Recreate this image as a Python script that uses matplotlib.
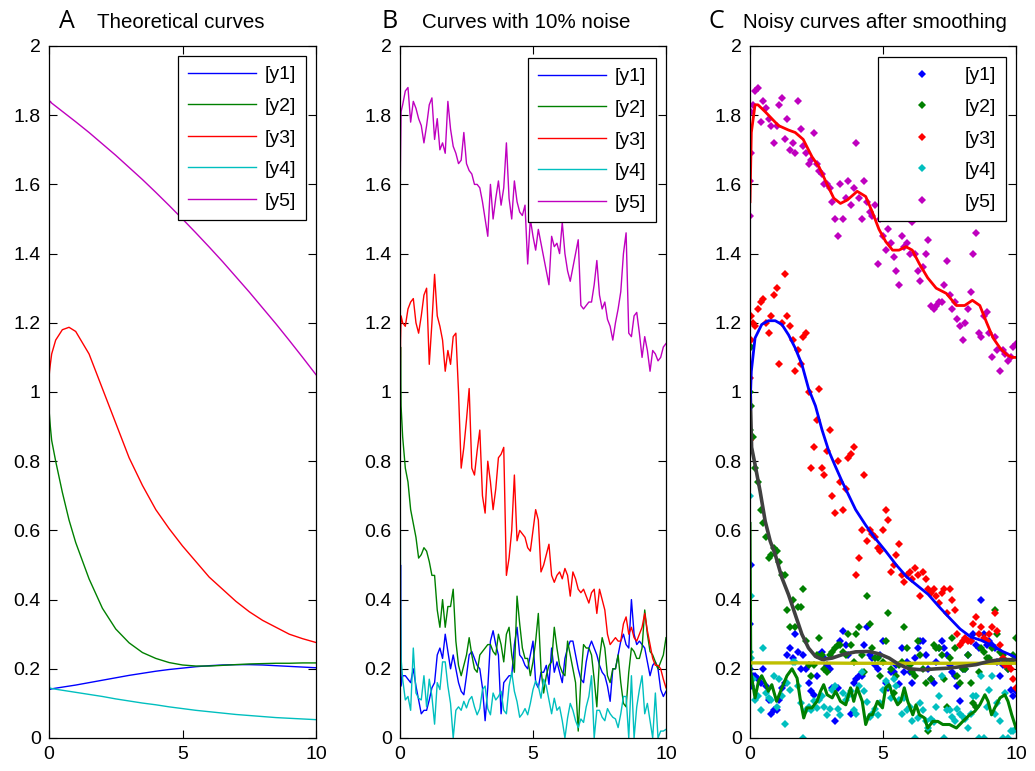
import numpy as np
import matplotlib
matplotlib.use("Agg")
import matplotlib.pyplot as plt

plt.rcParams['font.family'] = ['Liberation Sans', 'DejaVu Sans']

# ---------------- data ----------------
labels = ['[y1]', '[y2]', '[y3]', '[y4]', '[y5]']
colors = ['#0000ff', '#008000', '#ff0000', '#00bfbf', '#bf00bf']
xticks = [0, 5, 10]
xticklabels = ['0', '5', '10']
yticks = [0, 0.2, 0.4, 0.6, 0.8, 1.0, 1.2, 1.4, 1.6, 1.8, 2.0]
yticklabels = ['0', '0.2', '0.4', '0.6', '0.8', '1', '1.2', '1.4', '1.6', '1.8', '2']

# Panel A: theoretical curves
x_theory = [0, 0.02, 0.05, 0.1, 0.25, 0.5, 0.75, 1, 1.5, 2, 2.5, 3, 3.5, 4, 4.5,
            5, 5.5, 6, 6.5, 7, 7.5, 8, 8.5, 9, 9.5, 10]
y1_theory = [0.14, 0.14, 0.141, 0.142, 0.144, 0.147, 0.150, 0.153, 0.160, 0.167, 0.174,
             0.181, 0.187, 0.193, 0.198, 0.202, 0.206, 0.209, 0.211, 0.212, 0.212,
             0.211, 0.209, 0.207, 0.205, 0.203]
y2_theory = [0.95, 0.93, 0.90, 0.86, 0.80, 0.71, 0.63, 0.565, 0.46, 0.375, 0.315,
             0.275, 0.247, 0.23, 0.218, 0.211, 0.208, 0.208, 0.21, 0.212, 0.214,
             0.215, 0.216, 0.216, 0.217, 0.217]
y3_theory = [1.04, 1.06, 1.08, 1.11, 1.15, 1.18, 1.187, 1.175, 1.11, 1.01, 0.91,
             0.81, 0.73, 0.66, 0.605, 0.555, 0.51, 0.465, 0.43, 0.395, 0.365,
             0.34, 0.32, 0.30, 0.287, 0.276]
y4_theory = [0.185, 0.145, 0.144, 0.143, 0.141, 0.138, 0.135, 0.132, 0.126, 0.12,
             0.113, 0.107, 0.101, 0.096, 0.09, 0.085, 0.08, 0.076, 0.072, 0.068,
             0.065, 0.062, 0.059, 0.057, 0.055, 0.053]
y5_theory = [1.81, 1.84, 1.84, 1.835, 1.826, 1.811, 1.796, 1.781, 1.75, 1.717, 1.684,
             1.649, 1.614, 1.577, 1.539, 1.50, 1.46, 1.419, 1.377, 1.333, 1.289,
             1.243, 1.197, 1.149, 1.10, 1.05]

# Panels B and C: noisy data
x_noisy = np.concatenate([[0.0, 0.01, 0.02, 0.04], np.linspace(0.1, 10, 100)])
y1_noisy = [0.20, 0.33, 0.50, 0.15,
            0.18, 0.18, 0.17, 0.16, 0.20, 0.15, 0.11, 0.07, 0.08,
            0.08, 0.11, 0.145, 0.16, 0.24, 0.26, 0.23, 0.30, 0.25, 0.20,
            0.24, 0.20, 0.16, 0.135, 0.125, 0.18, 0.24, 0.25, 0.23, 0.21,
            0.20, 0.145, 0.05, 0.145, 0.28, 0.31, 0.27, 0.24, 0.07, 0.16,
            0.17, 0.18, 0.18, 0.27, 0.32, 0.24, 0.23, 0.21, 0.20, 0.24,
            0.28, 0.16, 0.145, 0.19, 0.19, 0.21, 0.155, 0.26, 0.19, 0.22,
            0.19, 0.16, 0.23, 0.26, 0.28, 0.28, 0.24, 0.20, 0.17, 0.16,
            0.22, 0.26, 0.28, 0.26, 0.24, 0.21, 0.19, 0.18, 0.15, 0.106,
            0.20, 0.20, 0.24, 0.28, 0.30, 0.27, 0.26, 0.40, 0.30, 0.27,
            0.28, 0.27, 0.26, 0.22, 0.18, 0.21, 0.22, 0.20, 0.14, 0.12,
            0.135]
y2_noisy = [0.89, 1.00, 1.13, 0.96,
            0.87, 0.78, 0.74, 0.66, 0.62, 0.58, 0.52, 0.53, 0.55,
            0.54, 0.51, 0.47, 0.47, 0.37, 0.32, 0.40, 0.32, 0.38, 0.38,
            0.43, 0.28, 0.21, 0.18, 0.21, 0.24, 0.29, 0.24, 0.20, 0.19,
            0.24, 0.25, 0.26, 0.27, 0.27, 0.25, 0.24, 0.30, 0.27, 0.22,
            0.30, 0.32, 0.24, 0.19, 0.41, 0.33, 0.26, 0.23, 0.23, 0.18,
            0.22, 0.28, 0.36, 0.20, 0.13, 0.18, 0.21, 0.22, 0.32, 0.26,
            0.21, 0.19, 0.18, 0.28, 0.24, 0.20, 0.16, 0.02, 0.17, 0.27,
            0.26, 0.26, 0.24, 0.17, 0.09, 0.23, 0.29, 0.26, 0.18, 0.16,
            0.20, 0.20, 0.24, 0.16, 0.10, 0.09, 0.19, 0.26, 0.25, 0.23,
            0.23, 0.26, 0.37, 0.30, 0.25, 0.24, 0.22, 0.20, 0.22, 0.24,
            0.29]
y3_noisy = [0.86, 1.04, 1.15, 1.22,
            1.20, 1.19, 1.24, 1.26, 1.27, 1.20, 1.17, 1.22, 1.28,
            1.30, 1.08, 1.20, 1.34, 1.22, 1.19, 1.15, 1.06, 1.12, 1.08,
            1.16, 1.17, 1.00, 0.78, 0.84, 0.92, 1.01, 0.78, 0.76, 0.83,
            0.89, 0.70, 0.65, 0.80, 0.74, 0.66, 0.72, 0.81, 0.82, 0.84,
            0.47, 0.52, 0.60, 0.76, 0.57, 0.60, 0.59, 0.58, 0.55, 0.54,
            0.60, 0.66, 0.63, 0.48, 0.50, 0.53, 0.56, 0.47, 0.45, 0.47,
            0.48, 0.46, 0.49, 0.47, 0.41, 0.48, 0.46, 0.43, 0.42, 0.43,
            0.41, 0.39, 0.42, 0.43, 0.36, 0.43, 0.40, 0.37, 0.30, 0.27,
            0.28, 0.29, 0.28, 0.28, 0.33, 0.35, 0.30, 0.32, 0.29, 0.28,
            0.30, 0.32, 0.36, 0.31, 0.27, 0.23, 0.21, 0.21, 0.20, 0.17,
            0.145]
y4_noisy = [0.25, 0.70, 0.41, 0.23,
            0.17, 0.11, 0.12, 0.08, 0.26, 0.13, 0.115, 0.11, 0.18,
            0.09, 0.17, 0.12, 0.04, 0.16, 0.14, 0.22, 0.22, 0.15, 0.10,
            0.00, 0.08, 0.09, 0.08, 0.106, 0.087, 0.11, 0.12, 0.09, 0.067,
            0.085, 0.14, 0.15, 0.085, 0.067, 0.13, 0.11, 0.12, 0.135, 0.08,
            0.07, 0.15, 0.19, 0.135, 0.105, 0.06, 0.07, 0.085, 0.067, 0.10,
            0.14, 0.165, 0.15, 0.115, 0.17, 0.15, 0.11, 0.07, 0.115, 0.08,
            0.09, 0.05, 0.00, 0.058, 0.10, 0.08, 0.05, 0.03, 0.055, 0.045,
            0.09, 0.12, 0.18, 0.00, 0.08, 0.08, 0.06, 0.05, 0.085, 0.07,
            0.06, 0.055, 0.03, 0.07, 0.12, 0.12, 0.00, 0.18, 0.00, 0.09,
            0.14, 0.18, 0.07, 0.10, 0.05, 0.00, 0.13, 0.00, 0.02, 0.02,
            0.025]
y5_noisy = [1.51, 1.61, 1.69, 1.81,
            1.83, 1.87, 1.88, 1.78, 1.84, 1.82, 1.79, 1.77, 1.72,
            1.77, 1.83, 1.85, 1.73, 1.79, 1.70, 1.72, 1.69, 1.84, 1.76,
            1.71, 1.69, 1.66, 1.67, 1.75, 1.66, 1.64, 1.63, 1.60, 1.60,
            1.59, 1.55, 1.50, 1.45, 1.60, 1.50, 1.56, 1.61, 1.54, 1.59,
            1.72, 1.56, 1.50, 1.61, 1.55, 1.52, 1.51, 1.54, 1.37, 1.50,
            1.45, 1.41, 1.47, 1.43, 1.39, 1.35, 1.31, 1.45, 1.42, 1.43,
            1.40, 1.49, 1.40, 1.35, 1.32, 1.36, 1.40, 1.44, 1.25, 1.24,
            1.25, 1.26, 1.26, 1.31, 1.38, 1.28, 1.24, 1.26, 1.21, 1.19,
            1.15, 1.20, 1.24, 1.29, 1.40, 1.46, 1.17, 1.16, 1.22, 1.23,
            1.17, 1.10, 1.16, 1.12, 1.06, 1.12, 1.11, 1.09, 1.10, 1.13,
            1.14]

# Panel C: smoothed curves
x_s5 = [0, 0.05, 0.19, 0.3, 0.57, 0.82, 1.07, 1.45, 1.7, 2.0, 2.33, 2.6, 2.9, 3.15,
        3.4, 3.66, 4.03, 4.35, 4.6, 4.85, 5.1, 5.36, 5.6, 5.86, 6.1, 6.37, 6.68, 7.0,
        7.38, 7.76, 8.07, 8.36, 8.64, 8.9, 9.14, 9.4, 9.65, 9.84, 10]
y_s5 = [1.55, 1.75, 1.83, 1.83, 1.81, 1.79, 1.77, 1.757, 1.75, 1.73, 1.68, 1.65, 1.60,
        1.56, 1.545, 1.555, 1.58, 1.565, 1.52, 1.47, 1.435, 1.41, 1.41, 1.42, 1.41,
        1.37, 1.33, 1.30, 1.285, 1.25, 1.25, 1.265, 1.25, 1.20, 1.156, 1.127, 1.108,
        1.10, 1.10]
x_s3 = [0, 0.05, 0.19, 0.44, 0.69, 0.95, 1.2, 1.45, 1.7, 1.95, 2.2, 2.46, 2.71, 2.96,
        3.21, 3.47, 3.72, 3.97, 4.35, 4.73, 5.1, 5.5, 5.9, 6.3, 6.7, 7.1, 7.5, 7.9,
        8.3, 8.7, 9.1, 9.5, 9.8, 10]
y_s3 = [0.95, 1.06, 1.156, 1.195, 1.206, 1.206, 1.195, 1.165, 1.127, 1.08, 1.01, 0.96,
        0.89, 0.83, 0.785, 0.74, 0.70, 0.66, 0.615, 0.575, 0.54, 0.50, 0.465, 0.44,
        0.415, 0.38, 0.347, 0.315, 0.292, 0.282, 0.267, 0.25, 0.24, 0.233]
x_s2 = [0, 0.06, 0.19, 0.38, 0.57, 0.76, 0.95, 1.2, 1.45, 1.7, 1.95, 2.2, 2.46, 2.71,
        3.09, 3.47, 3.97, 4.48, 4.86, 5.23, 5.61, 5.99, 6.5, 7.0, 7.5, 8.0, 8.5, 9.0,
        9.5, 10]
y_s2 = [1.02, 0.84, 0.79, 0.713, 0.627, 0.569, 0.53, 0.463, 0.414, 0.357, 0.30, 0.26,
        0.236, 0.227, 0.231, 0.241, 0.249, 0.25, 0.243, 0.231, 0.212, 0.20, 0.197,
        0.20, 0.202, 0.207, 0.212, 0.222, 0.227, 0.226]
x_s1 = [0, 2, 4, 6, 8, 10]
y_s1 = [0.217, 0.217, 0.216, 0.216, 0.216, 0.216]
x_s4 = [0, 0.03, 0.19, 0.32, 0.44, 0.57, 0.69, 0.82, 1.0, 1.2, 1.39, 1.58, 1.77, 1.9,
        2.02, 2.14, 2.33, 2.52, 2.65, 2.77, 2.9, 3.09, 3.22, 3.4, 3.6, 3.78, 3.9, 4.03,
        4.22, 4.35, 4.48, 4.6, 4.79, 4.98, 5.1, 5.23, 5.36, 5.55, 5.67, 5.8, 5.93, 6.12,
        6.24, 6.37, 6.56, 6.68, 6.87, 7.06, 7.25, 7.5, 7.76, 8.0, 8.26, 8.45, 8.64,
        8.83, 8.95, 9.08, 9.2, 9.4, 9.58, 9.7, 9.84, 10]
y_s4 = [0.62, 0.19, 0.116, 0.164, 0.18, 0.16, 0.135, 0.154, 0.106, 0.145, 0.18, 0.20,
        0.173, 0.106, 0.058, 0.087, 0.087, 0.106, 0.135, 0.154, 0.125, 0.116, 0.135,
        0.106, 0.096, 0.145, 0.106, 0.145, 0.106, 0.039, 0.067, 0.067, 0.106, 0.087,
        0.145, 0.154, 0.125, 0.096, 0.106, 0.145, 0.106, 0.067, 0.096, 0.067, 0.058,
        0.029, 0.048, 0.048, 0.039, 0.039, 0.029, 0.048, 0.067, 0.077, 0.096, 0.125,
        0.106, 0.067, 0.087, 0.116, 0.125, 0.106, 0.067, 0.029]
smooth_colors = {'s5': '#ff0000', 's3': '#0000ff', 's2': '#404040',
                 's1': '#bfbf00', 's4': '#008000'}

titles = [('A', 'Theoretical curves'), ('B', 'Curves with 10% noise'),
          ('C', 'Noisy curves after smoothing')]

# ---------------- figure ----------------
W, H = 1035, 771
fig = plt.figure(figsize=(W / 100, H / 100), dpi=100)

def px_axes(left, right, top=46, bottom=738):
    return fig.add_axes([left / W, 1 - bottom / H, (right - left) / W, (bottom - top) / H])

axA = px_axes(49, 316)
axB = px_axes(400, 666)
axC = px_axes(750, 1016)

FS = 14

def style(ax):
    ax.set_xlim(0, 10)
    ax.set_ylim(0, 2)
    ax.set_xticks(xticks)
    ax.set_xticklabels(xticklabels)
    ax.set_yticks(yticks)
    ax.set_yticklabels(yticklabels)
    ax.tick_params(direction='in', length=6, width=0.8, top=True, right=True,
                   labelsize=FS, pad=6, colors='black')
    for s in ax.spines.values():
        s.set_linewidth(0.9)
        s.set_color('black')
        s.set_zorder(5)

series_theory = [y1_theory, y2_theory, y3_theory, y4_theory, y5_theory]
series_noisy = [y1_noisy, y2_noisy, y3_noisy, y4_noisy, y5_noisy]

for ys, c, lab in zip(series_theory, colors, labels):
    axA.plot(x_theory, ys, color=c, lw=1.0, label=lab)
for ys, c, lab in zip(series_noisy, colors, labels):
    axB.plot(x_noisy, ys, color=c, lw=1.0, label=lab)
for ys, c, lab in zip(series_noisy, colors, labels):
    axC.plot(x_noisy, ys, linestyle='none', marker='D', ms=3.6, color=c,
             markeredgewidth=0, label=lab)

axC.plot(x_s4, y_s4, color=smooth_colors['s4'], lw=2.2, zorder=3)
axC.plot(x_s1, y_s1, color=smooth_colors['s1'], lw=2.4, zorder=3)
axC.plot(x_s2, y_s2, color=smooth_colors['s2'], lw=2.6, zorder=3)
axC.plot(x_s3, y_s3, color=smooth_colors['s3'], lw=2.0, zorder=3)
axC.plot(x_s5, y_s5, color=smooth_colors['s5'], lw=2.0, zorder=3)

for ax in (axA, axB, axC):
    style(ax)

def legend(ax, right, top, handlelength):
    axw = ax.get_position().width * W
    axh = ax.get_position().height * H
    ax_left = ax.get_position().x0 * W
    ax_top = (1 - ax.get_position().y1) * H
    ax_bottom = ax_top + axh
    bx = (right - ax_left) / axw
    by = (ax_bottom - top) / axh
    leg = ax.legend(loc='upper right', bbox_to_anchor=(bx, by), borderaxespad=0,
                    fontsize=FS, frameon=True, fancybox=False, framealpha=1,
                    edgecolor='black', handlelength=handlelength, handletextpad=0.45,
                    labelspacing=0.72, borderpad=0.5, numpoints=1)
    leg.get_frame().set_linewidth(0.9)
    leg.set_zorder(10)

legend(axA, 306, 56, 3.5)
legend(axB, 656, 58, 3.5)
legend(axC, 1006, 57, 3.5)

# titles
title_pos = [(59, 97), (381, 422), (709, 743)]
for (letter, txt), (xl, xt) in zip(titles, title_pos):
    fig.text(xl / W, 1 - 28.5 / H, letter, fontsize=18, family=['Open Sans', 'DejaVu Sans'],
             ha='left', va='baseline')
    fig.text(xt / W, 1 - 27.5 / H, txt, fontsize=14.8, ha='left', va='baseline')

fig.savefig('out.png', dpi=100)
